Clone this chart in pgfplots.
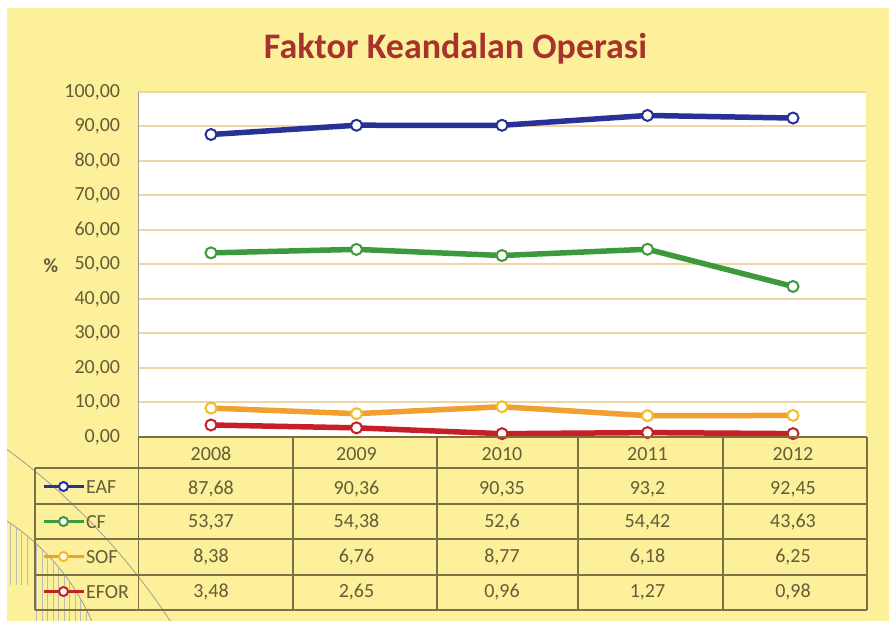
\documentclass[border=0pt]{standalone}
\usepackage{fontspec}
\setmainfont{Carlito}
\usepackage{pgfplots}
\usepackage{pgfplotstable}
\pgfplotsset{compat=1.18}

\definecolor{bgYellow}{HTML}{FDF09A}
\definecolor{titleRed}{HTML}{A8322D}
\definecolor{txtOlive}{HTML}{655C38}
\definecolor{gridTan}{HTML}{EED6A8}
\definecolor{tabLine}{HTML}{7D7045}
\definecolor{decoGray}{HTML}{A09E90}
\definecolor{eafBlue}{HTML}{283296}
\definecolor{cfGreen}{HTML}{3C9A3C}
\definecolor{sofOrange}{HTML}{F0A030}
\definecolor{eforRed}{HTML}{C81E28}

% Faktor Keandalan Operasi, 2008-2012 (%)
\pgfplotstableread{
x year EAF CF SOF EFOR
0 2008 87.68 53.37 8.38 3.48
1 2009 90.36 54.38 6.76 2.65
2 2010 90.35 52.6 8.77 0.96
3 2011 93.2 54.42 6.18 1.27
4 2012 92.45 43.63 6.25 0.98
}\datatable

\newcommand{\lbl}{\fontsize{20bp}{23bp}\selectfont}

\begin{document}
\begin{tikzpicture}[x=1bp, y=1bp, font=\lbl]
\useasboundingbox (0,0) rectangle (889,621);
\fill[white] (0,0) rectangle (889,621);
\fill[bgYellow] (7,0) rectangle (889,613);

% background arcs and stripes, bottom left
\begin{scope}
  \clip (7,0) rectangle (889,613);
  \draw[decoGray, line width=0.8bp] (-384,-364) circle (663);
  \draw[decoGray, line width=0.8bp] (-118,-92) circle (229);
  \clip (-118,-92) circle (229);
  \foreach \xs in {5,10.5,...,31}
    \draw[decoGray!70, line width=0.8bp] (\xs,36) -- (\xs,240);
  \foreach \xs in {36.5,42,...,97}
    \draw[decoGray!70, line width=0.8bp] (\xs,0) -- (\xs,240);
\end{scope}

\node[anchor=base, text=titleRed, font=\fontsize{36bp}{40bp}\selectfont\bfseries]
  at (455.5,562) {Faktor Keandalan Operasi};
\node[text=txtOlive, font=\lbl\bfseries] at (51,355) {\%};

\begin{axis}[
  at={(138.25bp,184bp)}, anchor=south west,
  scale only axis, width=727.5bp, height=345bp,
  xmin=-0.5, xmax=4.5, ymin=0, ymax=100,
  xtick=\empty,
  ytick={0,10,...,100},
  ymajorgrids,
  grid style={gridTan, line width=2bp},
  major tick length=0pt,
  axis line style={draw=none},
  axis background/.style={fill=white},
  clip=false,
  yticklabel style={font=\lbl, text=txtOlive, inner sep=0pt, xshift=-18bp},
  legend cell align=left,
  legend style={at={(axis description cs:-0.1323,-0.0928)}, anchor=north west,
    draw=none, fill=none, inner sep=0pt, outer sep=0pt,
    row sep=0pt, column sep=1bp, font=\lbl, text=txtOlive,
    nodes={inner sep=0pt, text height=24bp, text depth=11bp}},
  legend image code/.code={
    \draw[mark repeat=2, mark phase=2, #1, line width=3bp, mark size=4.5bp]
      plot coordinates {(0bp,0bp) (20bp,0bp) (40bp,0bp)};
  },
  /pgf/number format/.cd, use comma, fixed, fixed zerofill, precision=2,
  assume math mode=true,
]
\addplot[eafBlue, line width=5.5bp, mark=*, mark size=5.5bp,
  mark options={fill=white, draw=eafBlue, line width=2bp}]
  table[x=x, y=EAF] {\datatable};
\addlegendentry{EAF}
\addplot[cfGreen, line width=5.5bp, mark=*, mark size=5.5bp,
  mark options={fill=white, draw=cfGreen, line width=2bp}]
  table[x=x, y=CF] {\datatable};
\addlegendentry{CF}
\addplot[sofOrange, line width=5.5bp, mark=*, mark size=5.5bp,
  mark options={fill=white, draw=sofOrange!70!yellow, line width=2bp}]
  table[x=x, y=SOF] {\datatable};
\addlegendentry{SOF}
\addplot[eforRed, line width=5.5bp, mark=*, mark size=5.5bp,
  mark options={fill=white, draw=eforRed, line width=2bp}]
  table[x=x, y=EFOR] {\datatable};
\addlegendentry{EFOR}
\end{axis}

% plot frame left side
\draw[decoGray, line width=1.2bp] (138.25,184) -- (138.25,529);

% data table grid
\begin{scope}[tabLine, line width=1.5bp]
  \draw (138.25,184) -- (867,184);
  \foreach \yy in {153,117,82,46,11} \draw (35,\yy) -- (867,\yy);
  \draw (35,153) -- (35,11);
  \foreach \xx in {138.25,293,437,578,723,867} \draw (\xx,184) -- (\xx,11);
\end{scope}

% table texts
\foreach \i in {0,...,4} {
  \pgfplotstablegetelem{\i}{year}\of\datatable
  \node[anchor=base, text=txtOlive] at ({211+145.5*\i},160) {\pgfplotsretval};
}
\foreach \col/\yb in {EAF/126,CF/93,SOF/58,EFOR/23} {
  \foreach \i in {0,...,4} {
    \edef\getit{\noexpand\pgfplotstablegetelem{\i}{\col}\noexpand\of\noexpand\datatable}
    \getit
    \node[anchor=base, text=txtOlive] at ({211+145.5*\i},\yb)
      {\pgfmathprintnumber[use comma, precision=2, assume math mode=true]{\pgfplotsretval}};
  }
}
\end{tikzpicture}
\end{document}
